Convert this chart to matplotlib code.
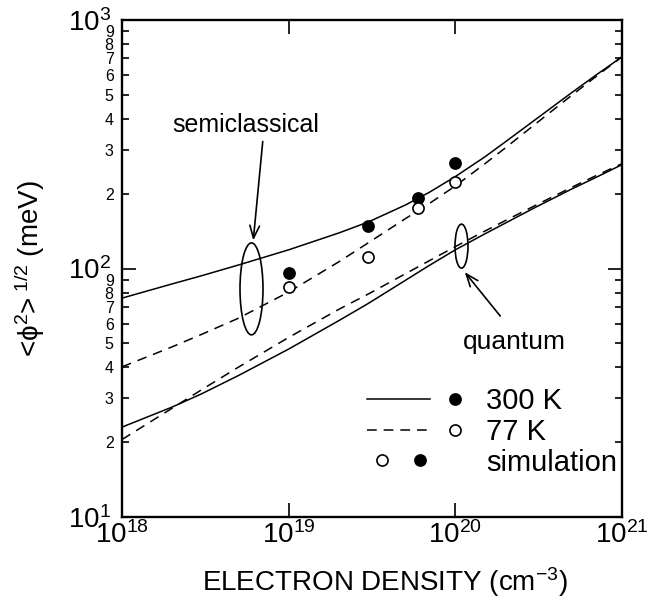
import math
import matplotlib
matplotlib.use("Agg")
import matplotlib.pyplot as plt
from matplotlib.patches import Ellipse
from matplotlib.lines import Line2D
from matplotlib.legend_handler import HandlerBase
from matplotlib.ticker import LogLocator, FuncFormatter, LogFormatterSciNotation, NullLocator

plt.rcParams['font.family'] = ['Liberation Sans', 'DejaVu Sans']
plt.rcParams['mathtext.fontset'] = 'custom'
plt.rcParams['mathtext.rm'] = 'Liberation Sans'
plt.rcParams['mathtext.it'] = 'Liberation Sans:italic'
plt.rcParams['mathtext.default'] = 'regular'
plt.rcParams['lines.scale_dashes'] = False

# ---- data ----
density = [1e18, 2e18, 3e18, 5e18, 1e19, 2e19, 3e19, 5e19, 7e19, 1e20,
           1.5e20, 2e20, 3e20, 5e20, 7e20, 1e21]
semi_300K = [76.0, 86.7, 93.5, 103.3, 118.9, 139, 153.8, 179.9, 202.8, 234.4,
             281, 323.6, 396, 510.5, 601, 711]
semi_77K = [40.2, 48.4, 54.3, 63.1, 80.4, 106.4, 126.8, 158.5, 182.8, 214.8,
            263.6, 306, 380, 498, 593, 711]
quant_300K = [23.0, 27.7, 31.3, 37.1, 47.4, 61.7, 72.3, 89.5, 103, 118.9,
              137.7, 152.4, 175.8, 209, 232.8, 261.8]
quant_77K = [20.5, 27.4, 32.5, 40.1, 52.8, 68.5, 78.9, 95.1, 107.6, 122.5,
             141.3, 156, 179, 212.3, 236.6, 264.2]

sim_density = [1e19, 3e19, 6e19, 1e20]
sim_300K = [96, 148, 192, 266]
sim_77K = [84, 111, 175, 223]

legend_labels = ['300 K', '77 K', 'simulation']

fig = plt.figure(figsize=(6.49, 6.04), dpi=100)
ax = fig.add_axes([122/649, 87/604, 500/649, 497/604])

lw = 1.1
dash = (0, (7, 5))
ax.plot(density, semi_300K, color='k', lw=lw)
ax.plot(density, semi_77K, color='k', lw=lw, ls=dash)
ax.plot(density, quant_300K, color='k', lw=lw)
ax.plot(density, quant_77K, color='k', lw=lw, ls=dash)
ax.plot(sim_density, sim_300K, 'o', ms=8, mfc='k', mec='k', mew=1.2)
ax.plot(sim_density, sim_77K, 'o', ms=8, mfc='white', mec='k', mew=1.2)

ax.set_xscale('log')
ax.set_yscale('log')
ax.set_xlim(1e18, 1e21)
ax.set_ylim(10, 1000)

ax.xaxis.set_major_locator(LogLocator(base=10, numticks=10))
ax.xaxis.set_minor_locator(NullLocator())
ax.yaxis.set_major_locator(LogLocator(base=10, numticks=10))
ax.yaxis.set_minor_locator(LogLocator(base=10, subs=range(2, 10), numticks=20))
ax.yaxis.set_major_formatter(LogFormatterSciNotation())

def minor_fmt(v, pos):
    m = v / 10 ** math.floor(math.log10(v) + 1e-9)
    return '%d' % round(m)
ax.yaxis.set_minor_formatter(FuncFormatter(minor_fmt))

ax.tick_params(which='both', direction='in', top=True, right=True, width=1.2)
ax.tick_params(which='major', length=10, labelsize=20)
ax.tick_params(axis='y', which='major', pad=8)
ax.tick_params(axis='x', which='major', pad=3)
ax.tick_params(which='minor', length=5, labelsize=11.5, pad=6)
for s in ax.spines.values():
    s.set_linewidth(1.7)

ax.set_xlabel('ELECTRON DENSITY (cm$^{\u22123}$)', fontsize=20)
ax.xaxis.set_label_coords(0.526, -0.097)
ax.set_ylabel('<\u03d5$^2$>$^{\\ 1/2}$ (meV)', fontsize=20)
ax.yaxis.set_label_coords(-0.15, 0.5)

# annotations
ax.add_patch(Ellipse((0.259, 0.459), 0.046, 0.185, transform=ax.transAxes,
                     fill=False, ec='k', lw=1.2))
ax.add_patch(Ellipse((0.679, 0.545), 0.026, 0.0885, transform=ax.transAxes,
                     fill=False, ec='k', lw=1.2))
ax.text(0.247, 0.789, 'semiclassical', transform=ax.transAxes, fontsize=18,
        ha='center', va='center')
ax.text(0.784, 0.352, 'quantum', transform=ax.transAxes, fontsize=19,
        ha='center', va='center')
ax.annotate('', xy=(0.262, 0.551), xytext=(0.282, 0.761), xycoords='axes fraction',
            arrowprops=dict(arrowstyle='->,head_length=0.9,head_width=0.35', color='k', lw=1.2))
ax.annotate('', xy=(0.682, 0.497), xytext=(0.760, 0.400), xycoords='axes fraction',
            arrowprops=dict(arrowstyle='->,head_length=0.9,head_width=0.35', color='k', lw=1.2))

# legend
class RowHandler(HandlerBase):
    def __init__(self, items):
        super().__init__()
        self.items = items
    def create_artists(self, legend, orig_handle, xdescent, ydescent, width, height, fontsize, trans):
        y = height / 2 - ydescent
        arts = []
        for it in self.items:
            if it[0] == 'line':
                arts.append(Line2D([it[1] * width - xdescent, it[2] * width - xdescent], [y, y],
                                   color='k', lw=lw, ls=it[3], transform=trans))
            else:
                arts.append(Line2D([it[1] * width - xdescent], [y], marker='o', ms=8, ls='none',
                                   mfc=it[2], mec='k', mew=1.2, transform=trans))
        return arts

h1, h2, h3 = Line2D([], []), Line2D([], []), Line2D([], [])
hmap = {
    h1: RowHandler([('line', 0.0, 0.66, '-'), ('dot', 0.92, 'k')]),
    h2: RowHandler([('line', 0.0, 0.66, dash), ('dot', 0.92, 'white')]),
    h3: RowHandler([('dot', 0.16, 'white'), ('dot', 0.55, 'k')]),
}
leg = ax.legend([h1, h2, h3], legend_labels, handler_map=hmap, loc='center left',
                bbox_to_anchor=(0.49, 0.171), frameon=False, fontsize=21,
                handlelength=3.29, handletextpad=0.79, labelspacing=0.09,
                borderpad=0, borderaxespad=0)

fig.savefig('out.png', dpi=100)
